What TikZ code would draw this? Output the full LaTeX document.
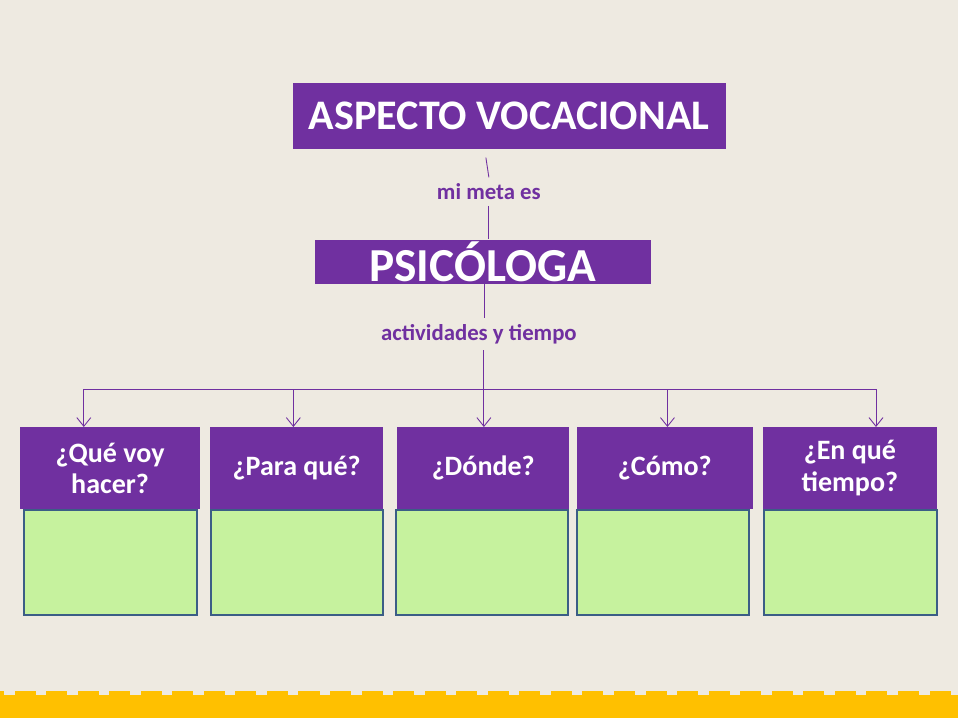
\documentclass[tikz,border=0pt]{standalone}
\usepackage{fontspec}
\setmainfont{Carlito}
\usetikzlibrary{arrows.meta}
\definecolor{fondo}{HTML}{EEEAE1}
\definecolor{morado}{HTML}{7030A0}
\definecolor{verde}{HTML}{C6F29E}
\definecolor{borde}{HTML}{3B5E86}
\definecolor{amarillo}{HTML}{FFC000}
\tikzset{
  titulo/.style={fill=morado,text=white,font=\bfseries,anchor=north west,inner sep=0pt,align=center},
  pregunta/.style={titulo,font=\bfseries\fontsize{16}{18}\selectfont},
  caja/.style={fill=verde,draw=borde,line width=1.2pt,anchor=north west,inner sep=0pt},
  enlace/.style={text=morado,font=\bfseries\fontsize{13}{15}\selectfont},
  linea/.style={draw=morado,line width=0.5pt},
  flecha/.style={linea,-{Straight Barb[length=5pt,width=8pt]}}
}
\begin{document}
\begin{tikzpicture}[x=0.02cm,y=-0.02cm]
  % fondo y franja inferior
  \fill[fondo] (0,0) rectangle (960,720);
  \fill[amarillo] (0,693) rectangle (960,720);
  \draw[fondo,line width=2.5pt,dash pattern=on 6pt off 12pt] (4,694) -- (960,694);
  \useasboundingbox (0,0) rectangle (960,720);

  % cajas superiores
  \node[titulo,minimum width=434*0.02cm,minimum height=66*0.02cm,font=\bfseries\fontsize{24}{28}\selectfont] (aspecto) at (293,83) {ASPECTO VOCACIONAL};
  \node[enlace] (meta) at (490,192) {mi meta es};
  \node[titulo,minimum width=337*0.02cm,minimum height=44*0.02cm,font=\bfseries\fontsize{27}{30}\selectfont] (psico) at (315,240) {PSICÓLOGA};
  \node[enlace] (activ) at (480,335) {actividades y tiempo};
  \draw[linea] (487,158) -- (meta.north);
  \draw[linea] (meta.south) -- (psico.north -| meta.south);
  \draw[linea] (psico.south -| 486,0) -- (activ.north -| 486,0);

  % preguntas y cajas verdes
  \foreach \nombre/\xa/\xb/\xc/\xd/\texto in {
      que/20/180/23/173/{¿Qué voy\\ hacer?},
      para/210/174/210/173/{¿Para qué?},
      donde/398/172/396/172/{¿Dónde?},
      como/578/176/577/173/{¿Cómo?},
      tiempo/764/175/765/173/{¿En qué\\ tiempo?}} {
    \node[caja,minimum width=\xd*0.02cm,minimum height=105*0.02cm] (v\nombre) at (\xc,510) {};
    \node[pregunta,minimum width=\xb*0.02cm,minimum height=82*0.02cm] (\nombre) at (\xa,428) {\texto};
  }

  % conectores
  \coordinate (rama) at (485,390);
  \draw[flecha] (activ.south -| 485,0) -- (485,428);
  \draw[linea] (84,390) -- (878,390);
  \foreach \xx in {84,294,669,878}
    \draw[flecha] (\xx,390) -- (\xx,428);
\end{tikzpicture}
\end{document}
